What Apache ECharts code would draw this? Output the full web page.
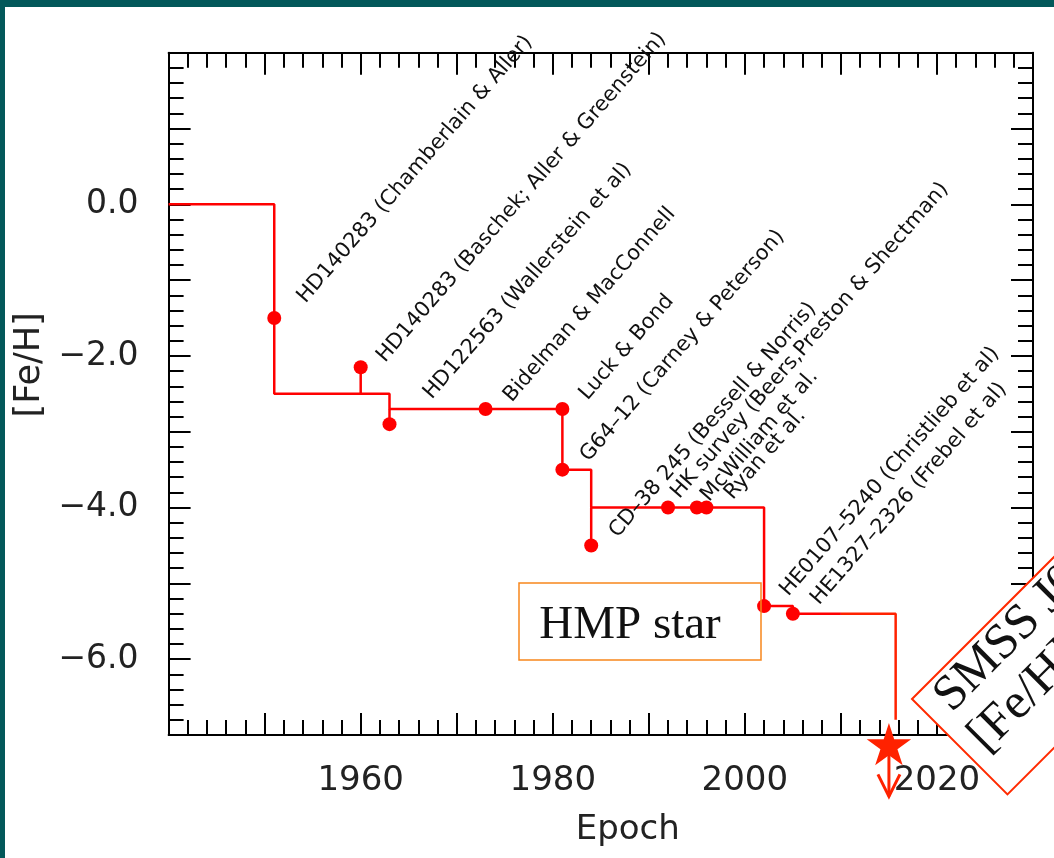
<!DOCTYPE html>
<html><head><meta charset="utf-8">
<script src="https://cdn.jsdelivr.net/npm/echarts@6/dist/echarts.min.js"></script>
<style>html,body{margin:0;padding:0;background:#fff}#c{width:1054px;height:858px}</style>
</head><body><div id="c"></div>
<script>
// ---- data ----
const starYears = [1951, 1960, 1963, 1973, 1981, 1981, 1984, 1992, 1995, 1996, 2002, 2005];
const starFeH   = [-1.5, -2.15, -2.9, -2.7, -2.7, -3.5, -4.5, -4.0, -4.0, -4.0, -5.3, -5.4];
const starNames = [
  'HD140283 (Chamberlain & Aller)',
  'HD140283 (Baschek; Aller & Greenstein)',
  'HD122563 (Wallerstein et al)',
  'Bidelman & MacConnell',
  'Luck & Bond',
  'G64–12 (Carney & Peterson)',
  'CD–38 245 (Bessell & Norris)',
  'HK survey (Beers,Preston & Shectman)',
  'McWilliam et al.',
  'Ryan et al.',
  'HE0107–5240 (Christlieb et al)',
  'HE1327–2326 (Frebel et al)'
];
const recordYears = [1940, 1951, 1951, 1963, 1963, 1981, 1981, 1984, 1984, 2002, 2002, 2005, 2005, 2010];
const recordFeH   = [0, 0, -2.5, -2.5, -2.7, -2.7, -3.5, -3.5, -4.0, -4.0, -5.3, -5.3, -5.4, -5.4];
const extYears = [2010, 2015.7, 2015.7];
const extFeH   = [-5.4, -5.4, -6.8];
const stubYears = [1960, 1963, 1984];
const stubFrom  = [-2.5, -2.7, -4.0];
const stubTo    = [-2.15, -2.9, -4.5];
const smssYear = 2015;
const smssFeH  = -7.15;
const xTickLabels = [1960, 1980, 2000, 2020];
const yTickLabels = [0, -2, -4, -6];

// ---- layout (pixel offsets of label starts from their dots) ----
const labelOffsets = [
  [35, -11], [28, -1], [46, -21], [30, -3], [29, -5], [30, -4],
  [30, -4], [15, -5], [16, -2], [30, -4], [28, -6], [30, -5]
];

const chart = echarts.init(document.getElementById('c'), null, {renderer: 'canvas'});
const RED = '#ff0000';
const axisCommon = {
  type: 'value',
  axisLine: {show: true, onZero: false, lineStyle: {color: '#000', width: 2}},
  axisTick: {show: true, inside: true, length: 22, lineStyle: {color: '#000', width: 2}},
  minorTick: {show: true, splitNumber: 5, length: 15, lineStyle: {color: '#000', width: 2}},
  splitLine: {show: false},
  minorSplitLine: {show: false}
};
const txt = {fontFamily: 'DejaVu Sans', color: '#222'};

const series = [];
series.push({
  type: 'line', data: recordYears.map((y, i) => [y, recordFeH[i]]),
  symbol: 'none', lineStyle: {color: RED, width: 2.5}, z: 3, animation: false
});
series.push({
  type: 'line', data: extYears.map((y, i) => [y, extFeH[i]]),
  symbol: 'none', lineStyle: {color: '#ff2200', width: 2.5}, z: 3, animation: false
});
stubYears.forEach((y, i) => {
  series.push({
    type: 'line', data: [[y, stubFrom[i]], [y, stubTo[i]]],
    symbol: 'none', lineStyle: {color: RED, width: 2.5}, z: 3, animation: false
  });
});
series.push({
  type: 'scatter', data: starYears.map((y, i) => [y, starFeH[i]]),
  symbol: 'circle', symbolSize: 14, itemStyle: {color: RED, opacity: 1}, z: 5, animation: false
});
series.push({
  type: 'custom', clip: false, z: 6, animation: false,
  data: starYears.map((y, i) => [y, starFeH[i]]),
  encode: {x: 0, y: 1},
  renderItem: function (params, api) {
    const p = api.coord([api.value(0), api.value(1)]);
    const o = labelOffsets[params.dataIndex];
    return {
      type: 'text', x: p[0] + o[0], y: p[1] + o[1], rotation: 49 * Math.PI / 180,
      style: {
        text: starNames[params.dataIndex], fontSize: 21, fontFamily: 'DejaVu Sans',
        font: '21px "DejaVu Sans"', fill: '#111',
        align: 'left', verticalAlign: 'bottom', textAlign: 'left', textVerticalAlign: 'bottom'
      }
    };
  }
});
series.push({
  type: 'custom', clip: false, z: 20, animation: false,
  data: [[smssYear, smssFeH]],
  encode: {x: 0, y: 1},
  renderItem: function (params, api) {
    const p = api.coord([api.value(0), api.value(1)]);
    const R = 23.4, r = R * 0.382;
    const pts = [];
    for (let k = 0; k < 10; k++) {
      const a = -Math.PI / 2 + k * Math.PI / 5;
      const rad = k % 2 === 0 ? R : r;
      pts.push([p[0] + rad * Math.cos(a), p[1] + rad * Math.sin(a)]);
    }
    const tipY = p[1] + 50;
    return {
      type: 'group',
      children: [
        {type: 'polyline', shape: {points: [[p[0], p[1]], [p[0], tipY]]},
          style: {stroke: '#ff2200', lineWidth: 3, fill: null}},
        {type: 'polyline', shape: {points: [[p[0] - 11, tipY - 22], [p[0], tipY], [p[0] + 11, tipY - 22]]},
          style: {stroke: '#ff2200', lineWidth: 3, fill: null}},
        {type: 'polygon', shape: {points: pts}, style: {fill: '#ff2200'}}
      ]
    };
  }
});

// SMSS annotation box (rotated 45 degrees), built from one corner
const boxA = [912, 699], boxW = 460, boxH = 135;
const cu = [Math.SQRT1_2, -Math.SQRT1_2], cv = [Math.SQRT1_2, Math.SQRT1_2];
const loc = (lx, ly) => [boxA[0] + lx * cu[0] + ly * cv[0], boxA[1] + lx * cu[1] + ly * cv[1]];
const boxPts = [loc(0, 0), loc(boxW, 0), loc(boxW, boxH), loc(0, boxH)];
const t1 = loc(18, 50), t2 = loc(14, 103);
const smssStyle = {font: '50px "Liberation Serif"', fontSize: 50, fontFamily: 'Liberation Serif', fill: '#111',
  align: 'left', verticalAlign: 'bottom', textAlign: 'left', textVerticalAlign: 'bottom'};

const option = {
  backgroundColor: '#ffffff',
  animation: false,
  grid: {left: 168.6, right: 21, top: 52.7, bottom: 123, containLabel: false},
  xAxis: [
    Object.assign({}, axisCommon, {
      min: 1940, max: 2030, interval: 10, position: 'bottom',
      axisLabel: {
        show: true, margin: 29, fontSize: 34, fontFamily: txt.fontFamily, color: txt.color,
        formatter: v => xTickLabels.indexOf(v) >= 0 ? String(v) : ''
      },
      name: 'Epoch', nameLocation: 'middle', nameGap: 78,
      nameTextStyle: {fontSize: 34, fontFamily: txt.fontFamily, color: txt.color, padding: [0, 0, 0, 54]}
    }),
    Object.assign({}, axisCommon, {
      min: 1940, max: 2030, interval: 10, position: 'top', axisLabel: {show: false}
    })
  ],
  yAxis: [
    Object.assign({}, axisCommon, {
      min: -7, max: 2, interval: 1, position: 'left',
      axisLabel: {
        show: true, margin: 30, fontSize: 33, fontFamily: txt.fontFamily, color: txt.color,
        formatter: v => yTickLabels.indexOf(v) >= 0 ? (v < 0 ? '−' : '') + Math.abs(v).toFixed(1) : ''
      },
      name: '[Fe/H]', nameLocation: 'middle', nameGap: 110, nameRotate: 90,
      nameTextStyle: {fontSize: 35, fontFamily: txt.fontFamily, color: txt.color, padding: [0, 0, 0, 58]}
    }),
    Object.assign({}, axisCommon, {
      min: -7, max: 2, interval: 1, position: 'right', axisLabel: {show: false}
    })
  ],
  series: series,
  graphic: [
    {type: 'rect', z: 100, shape: {x: 0, y: 0, width: 1054, height: 7}, style: {fill: '#03585a'}},
    {type: 'rect', z: 100, shape: {x: 0, y: 0, width: 5, height: 858}, style: {fill: '#03585a'}},
    {type: 'rect', z: 100, shape: {x: 519, y: 583, width: 242, height: 77},
      style: {fill: 'rgba(0,0,0,0)', stroke: '#f7861c', lineWidth: 1.5}},
    {type: 'text', z: 100, x: 630, y: 626,
      style: {text: 'HMP star', font: '47px "Liberation Serif"', fontSize: 47, fontFamily: 'Liberation Serif',
        fill: '#111', align: 'center', verticalAlign: 'middle', textAlign: 'center', textVerticalAlign: 'middle'}},
    {type: 'polygon', z: 100, shape: {points: boxPts},
      style: {fill: '#ffffff', stroke: '#ff2a00', lineWidth: 2}},
    {type: 'text', z: 101, x: t1[0], y: t1[1], rotation: Math.PI / 4,
      style: Object.assign({text: 'SMSS J0313−6708'}, smssStyle)},
    {type: 'text', z: 101, x: t2[0], y: t2[1], rotation: Math.PI / 4,
      style: Object.assign({text: '[Fe/H] < −7.1'}, smssStyle)}
  ]
};
chart.setOption(option);
</script>
</body></html>
